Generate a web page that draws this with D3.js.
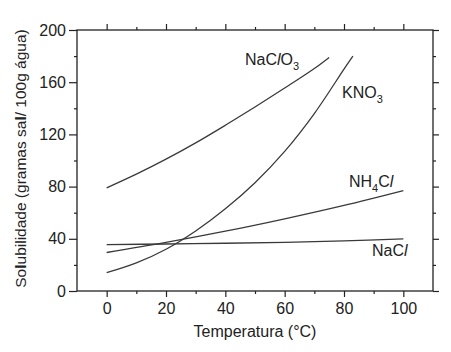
<!DOCTYPE html>
<html>
<head>
<meta charset="utf-8">
<script src="https://cdn.jsdelivr.net/npm/d3@7"></script>
<style>
  html, body { margin: 0; padding: 0; background: #fff; }
  svg { display: block; font-family: "Liberation Sans", Arial, sans-serif; }
</style>
</head>
<body>
<svg id="chart" width="451" height="352"></svg>
<script>
// --- data ---
const tempNaClO3 = [0, 10, 20, 30, 40, 50, 60, 70, 75];
const valNaClO3 = [79, 89.5, 101, 113.5, 127, 141, 155.5, 170.5, 179];

const tempKNO3 = [0, 10, 20, 30, 40, 50, 60, 70, 80, 83];
const valKNO3 = [14, 21.5, 32, 46, 63, 83, 107, 136, 170, 180];

const tempNH4Cl = [0, 20, 40, 60, 80, 100];
const valNH4Cl = [29.5, 37.2, 45.8, 55.3, 65.6, 77];

const tempNaCl = [0, 20, 40, 60, 80, 100];
const valNaCl = [35.6, 36, 36.6, 37.3, 38.4, 40];

const xTicks = [0, 20, 40, 60, 80, 100];
const yTicks = [0, 40, 80, 120, 160, 200];

const svg = d3.select("#chart");

// plot frame
const plotLeft = 77, plotRight = 433, plotTop = 30, plotBottom = 291;

const x = d3.scaleLinear().domain([-10, 110]).range([plotLeft, plotRight]);
const y = d3.scaleLinear().domain([0, 200]).range([plotBottom, plotTop]);

const axisColor = "#222";
const lineColor = "#3a3a3a";

// minor tick values
const xMinor = d3.range(0, 110, 10).filter(v => !xTicks.includes(v));
const yMinor = d3.range(20, 200, 20).filter(v => !yTicks.includes(v));

// bottom axis
svg.append("g")
  .attr("transform", `translate(0,${plotBottom})`)
  .call(d3.axisBottom(x).tickValues(xTicks).tickSize(6).tickPadding(6).tickFormat(d3.format("d")))
  .call(g => g.select(".domain").remove());
svg.append("g")
  .attr("transform", `translate(0,${plotBottom})`)
  .call(d3.axisBottom(x).tickValues(xMinor).tickSize(3).tickFormat(""))
  .call(g => g.select(".domain").remove());

// top axis
svg.append("g")
  .attr("transform", `translate(0,${plotTop})`)
  .call(d3.axisTop(x).tickValues(xTicks).tickSize(6).tickFormat(""))
  .call(g => g.select(".domain").remove());
svg.append("g")
  .attr("transform", `translate(0,${plotTop})`)
  .call(d3.axisTop(x).tickValues(xMinor).tickSize(3).tickFormat(""))
  .call(g => g.select(".domain").remove());

// left axis
svg.append("g")
  .attr("transform", `translate(${plotLeft},0)`)
  .call(d3.axisLeft(y).tickValues(yTicks).tickSize(8).tickPadding(3).tickFormat(d3.format("d")))
  .call(g => g.select(".domain").remove());
svg.append("g")
  .attr("transform", `translate(${plotLeft},0)`)
  .call(d3.axisLeft(y).tickValues(yMinor).tickSize(3).tickFormat(""))
  .call(g => g.select(".domain").remove());

// right axis
svg.append("g")
  .attr("transform", `translate(${plotRight},0)`)
  .call(d3.axisRight(y).tickValues(yTicks).tickSize(6).tickFormat(""))
  .call(g => g.select(".domain").remove());
svg.append("g")
  .attr("transform", `translate(${plotRight},0)`)
  .call(d3.axisRight(y).tickValues(yMinor).tickSize(3).tickFormat(""))
  .call(g => g.select(".domain").remove());

svg.selectAll(".tick line").attr("stroke", axisColor).attr("stroke-width", 1.2);
svg.selectAll(".tick text")
  .attr("fill", "#222")
  .style("font-size", "16px")
  .style("font-family", "'Liberation Sans', Arial, sans-serif");

// frame box
svg.append("rect")
  .attr("x", plotLeft).attr("y", plotTop)
  .attr("width", plotRight - plotLeft).attr("height", plotBottom - plotTop)
  .attr("fill", "none")
  .attr("stroke", axisColor)
  .attr("stroke-width", 1.3);

// curves
const series = [
  { t: tempNaClO3, v: valNaClO3 },
  { t: tempKNO3, v: valKNO3 },
  { t: tempNH4Cl, v: valNH4Cl },
  { t: tempNaCl, v: valNaCl }
];

const line = d3.line()
  .x(d => x(d[0]))
  .y(d => y(d[1]))
  .curve(d3.curveCatmullRom.alpha(0.5));

series.forEach(s => {
  svg.append("path")
    .attr("d", line(s.t.map((t, i) => [t, s.v[i]])))
    .attr("fill", "none")
    .attr("stroke", lineColor)
    .attr("stroke-width", 1.3);
});

// curve labels
const labelStyle = sel => sel
  .attr("fill", "#222")
  .style("font-size", "16px");

const l1 = svg.append("text").attr("x", 245).attr("y", 65).call(labelStyle);
l1.append("tspan").text("NaC");
l1.append("tspan").style("font-style", "italic").text("l");
l1.append("tspan").text("O");
l1.append("tspan").attr("dy", 5).style("font-size", "11px").text("3");

const l2 = svg.append("text").attr("x", 342).attr("y", 98).call(labelStyle);
l2.append("tspan").text("KNO");
l2.append("tspan").attr("dy", 5).style("font-size", "11px").text("3");

const l3 = svg.append("text").attr("x", 349).attr("y", 187).call(labelStyle);
l3.append("tspan").text("NH");
l3.append("tspan").attr("dy", 5).style("font-size", "11px").text("4");
l3.append("tspan").attr("dy", -5).text("C");
l3.append("tspan").style("font-style", "italic").text("l");

const l4 = svg.append("text").attr("x", 372).attr("y", 256).call(labelStyle);
l4.append("tspan").text("NaC");
l4.append("tspan").style("font-style", "italic").text("l");

// axis titles
svg.append("text")
  .attr("x", (plotLeft + plotRight) / 2)
  .attr("y", 337)
  .attr("text-anchor", "middle")
  .attr("fill", "#222")
  .style("font-size", "16px")
  .text("Temperatura (°C)");

const yt = svg.append("text")
  .attr("transform", `translate(26,${(plotTop + plotBottom) / 2 - 2}) rotate(-90)`)
  .attr("text-anchor", "middle")
  .attr("fill", "#222")
  .style("font-size", "15.5px");
yt.append("tspan").text("So");
yt.append("tspan").style("font-weight", "bold").text("l");
yt.append("tspan").text("ubilidade (gramas sa");
yt.append("tspan").style("font-weight", "bold").text("l");
yt.append("tspan").text("/ 100g água)");
</script>
</body>
</html>
